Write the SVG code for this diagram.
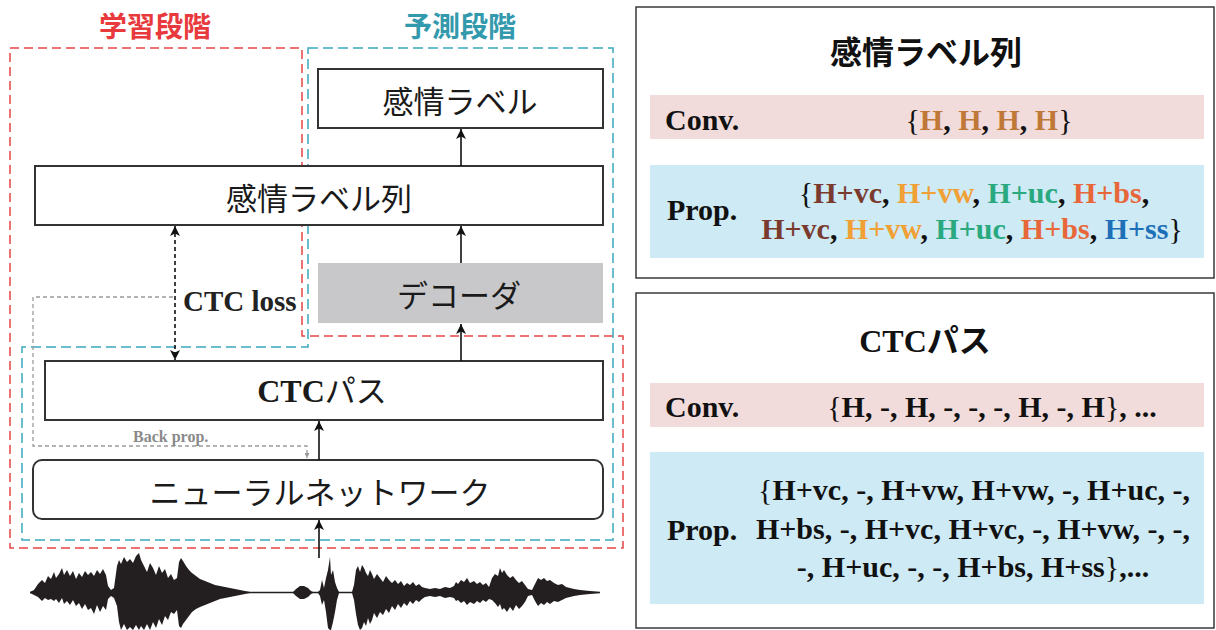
<svg xmlns="http://www.w3.org/2000/svg" width="1216" height="630" viewBox="0 0 1216 630">
  <style>
    .jp { font-family: "Noto Sans CJK JP", "Noto Sans", sans-serif; }
    .serif { font-family: "Liberation Serif", "Times New Roman", serif; font-weight: bold; }
    .box { fill: #ffffff; stroke: #333333; stroke-width: 2; }
    .lbl { font-size: 31px; fill: #1a1a1a; }
    .edge { stroke: #111111; stroke-width: 1.6; fill: none; }
    .band-pink { fill: #f2dcdb; }
    .band-blue { fill: #cdeaf5; }
    .panel { fill: #ffffff; stroke: #3a3a3a; stroke-width: 1.5; }
    .row { font-size: 30px; fill: #111111; }
    .br { font-weight: normal; fill: #111111; }
    .vc { fill: #7a3b2e; }
    .vw { fill: #f0a035; }
    .uc { fill: #2aa97f; }
    .bs { fill: #e8673a; }
    .ss { fill: #1d6fb8; }
    .hc { fill: #c07838; }
  </style>
  <defs>
    <marker id="arr" viewBox="0 0 10 10" refX="10" refY="5" markerWidth="10" markerHeight="10" markerUnits="userSpaceOnUse" orient="auto-start-reverse">
      <path d="M0,0 L10,5 L0,10 L2.5,5 Z" fill="#111111"/>
    </marker>
    <marker id="arrGray" viewBox="0 0 10 10" refX="10" refY="5" markerWidth="5" markerHeight="5" markerUnits="userSpaceOnUse" orient="auto">
      <path d="M0,0 L10,5 L0,10 Z" fill="#999999"/>
    </marker>
  </defs>

  <rect width="1216" height="630" fill="#ffffff"/>

  <!-- stage regions -->
  <g id="stage-train">
    <path d="M10,48 H302 V336 H623 V548 H10 Z" fill="none" stroke="#e84646" stroke-width="1.5" stroke-dasharray="9,5"/>
    <text class="jp" x="155" y="37" font-size="28" font-weight="bold" fill="#e8393c" text-anchor="middle">学習段階</text>
  </g>
  <g id="stage-predict">
    <path d="M308,48 H613 V540 H22 V347 H308 Z" fill="none" stroke="#3aa8bc" stroke-width="1.5" stroke-dasharray="10,5"/>
    <text class="jp" x="460" y="37" font-size="28" font-weight="bold" fill="#3399ad" text-anchor="middle">予測段階</text>
  </g>

  <!-- nodes -->
  <g id="node-emotion-label">
    <rect class="box" x="318" y="69" width="285" height="59"/>
    <text class="jp lbl" x="460" y="99" text-anchor="middle" dominant-baseline="central">感情ラベル</text>
  </g>
  <g id="node-emotion-seq">
    <rect class="box" x="35" y="166" width="568" height="59"/>
    <text class="jp lbl" x="319" y="196" text-anchor="middle" dominant-baseline="central">感情ラベル列</text>
  </g>
  <g id="node-decoder">
    <rect x="318" y="263" width="285" height="60" fill="#c8c8ca"/>
    <text class="jp lbl" x="459" y="293" text-anchor="middle" dominant-baseline="central">デコーダ</text>
  </g>
  <g id="node-ctc-path">
    <rect class="box" x="45" y="361" width="558" height="59"/>
    <text x="322" y="402" text-anchor="middle" font-size="32" fill="#1a1a1a"><tspan class="serif">CTC</tspan><tspan class="jp" font-size="31">パス</tspan></text>
  </g>
  <g id="node-network">
    <rect class="box" x="33" y="460" width="570" height="59" rx="9"/>
    <text class="jp lbl" x="320" y="490" text-anchor="middle" dominant-baseline="central">ニューラルネットワーク</text>
  </g>

  <!-- speech waveform input -->
  <g id="node-waveform">
    <line x1="30" y1="592.5" x2="600" y2="592.5" stroke="#231f20" stroke-width="1.5"/>
    <polygon fill="#231f20" points="30,592 34,590 38,584 42,580 45,583 48,576 51,579 54,572 56,578 59,574 62,568 64,575 67,570 70,576 73,571 76,579 79,573 82,577 85,571 88,575 91,572 94,576 97,570 100,574 103,569 106,575 108,586 111,590 114,588 117,566 119,560 121,564 124,557 127,562 130,559 133,563 136,556 139,553 141,560 144,566 147,572 150,563 153,568 156,575 159,566 162,573 165,569 168,578 171,574 174,580 177,578 179,562 181,558 183,561 186,566 189,570 192,573 196,576 200,579 205,581 210,583 215,585 220,586 225,587 230,588 235,589 240,590 245,591 250,592 293,592 296,589 300,586 304,586 308,588 311,591 313,592 318,592 320,590 322,580 324,588 326,578 328,570 330,557 331,575 333,570 335,582 337,588 339,592 352,592 354,585 356,570 358,566 360,572 362,565 364,568 366,573 368,576 370,570 372,574 374,579 377,574 380,578 383,582 386,576 389,580 392,583 395,580 398,584 401,581 404,586 407,583 410,585 413,582 416,586 419,584 422,587 425,588 430,589 435,588 440,589 445,587 450,588 454,586 456,582 458,584 461,580 464,582 467,578 470,583 474,581 477,584 480,582 483,585 486,583 489,587 492,578 495,574 498,576 500,568 502,573 504,570 507,575 510,578 513,576 516,580 519,583 522,581 525,585 528,589 532,590 535,584 538,578 541,580 544,578 547,581 550,580 554,583 558,585 562,584 566,587 570,588 574,589 580,590 590,591 600,592 600,593 590,594 580,595 574,596 570,597 566,598 562,600 558,602 554,601 550,604 547,602 544,605 541,603 538,606 535,601 532,595 528,596 525,602 522,606 519,609 516,605 513,611 510,607 507,612 504,608 502,610 500,604 498,607 495,603 492,600 489,599 486,602 483,600 480,603 477,601 474,604 470,602 467,605 464,601 461,603 458,600 456,601 454,598 450,597 445,598 440,596 435,597 430,596 425,597 422,599 419,602 416,600 413,604 410,601 407,606 404,603 401,608 398,604 395,610 392,606 389,613 386,609 383,615 380,612 377,618 374,613 372,620 370,624 368,618 366,626 364,622 362,628 360,630 358,625 356,614 354,600 352,593 339,593 337,600 335,612 333,622 331,630 330,630 328,628 326,612 324,600 322,605 320,596 318,593 313,593 311,594 308,597 304,599 300,599 296,596 293,593 250,593 245,594 240,595 235,596 230,597 225,598 220,599 215,601 210,603 205,605 200,607 196,609 192,612 189,616 186,620 183,624 181,628 179,626 177,610 174,614 171,612 168,620 165,616 162,625 159,619 156,628 153,622 150,630 147,624 144,630 141,626 139,630 136,625 133,630 130,627 127,630 124,624 121,630 119,622 117,606 114,598 111,596 108,599 106,610 103,606 100,612 97,605 94,614 91,608 88,610 85,604 82,609 79,603 76,606 73,600 70,605 67,601 64,604 62,598 59,603 56,599 54,601 51,599 48,600 45,598 42,601 38,597 34,595 30,593"/>
  </g>

  <!-- connectors -->
  <g id="connectors">
    <line class="edge" x1="461" y1="166" x2="461" y2="129" marker-end="url(#arr)"/>
    <line class="edge" x1="461" y1="263" x2="461" y2="226" marker-end="url(#arr)"/>
    <line class="edge" x1="461" y1="361" x2="461" y2="324" marker-end="url(#arr)"/>
    <line class="edge" x1="319" y1="460" x2="319" y2="421" marker-end="url(#arr)"/>
    <line class="edge" x1="319" y1="558" x2="319" y2="520" marker-end="url(#arr)"/>
    <!-- CTC loss (both directions) -->
    <line x1="175" y1="226" x2="175" y2="360" stroke="#111111" stroke-width="1.6" stroke-dasharray="4,3" marker-start="url(#arr)" marker-end="url(#arr)"/>
    <text class="serif" x="183" y="311" font-size="29" fill="#222222">CTC loss</text>
    <!-- back propagation -->
    <path d="M173,297 H33 V446 H307 V458" fill="none" stroke="#9a9a9a" stroke-width="1.3" stroke-dasharray="4,3" marker-end="url(#arrGray)"/>
    <text class="serif" x="133" y="442" font-size="16" fill="#8a8a8a">Back prop.</text>
  </g>

  <!-- emotion label sequence panel -->
  <g id="panel-label-seq">
    <rect class="panel" x="636" y="7" width="578" height="271"/>
    <text class="jp" x="926" y="64" font-size="32" font-weight="bold" fill="#111111" text-anchor="middle">感情ラベル列</text>
    <rect class="band-pink" x="650" y="95" width="554" height="44"/>
    <text class="serif row" x="665" y="130">Conv.</text>
    <text class="serif row" x="989" y="130" text-anchor="middle"><tspan class="br">{</tspan><tspan class="hc">H</tspan>, <tspan class="hc">H</tspan>, <tspan class="hc">H</tspan>, <tspan class="hc">H</tspan><tspan class="br">}</tspan></text>
    <rect class="band-blue" x="650" y="165" width="554" height="93"/>
    <text class="serif row" x="667" y="220">Prop.</text>
    <text class="serif row" x="974" y="203" text-anchor="middle"><tspan class="br">{</tspan><tspan class="vc">H+vc</tspan>, <tspan class="vw">H+vw</tspan>, <tspan class="uc">H+uc</tspan>, <tspan class="bs">H+bs</tspan>,</text>
    <text class="serif row" x="972" y="239" text-anchor="middle"><tspan class="vc">H+vc</tspan>, <tspan class="vw">H+vw</tspan>, <tspan class="uc">H+uc</tspan>, <tspan class="bs">H+bs</tspan>, <tspan class="ss">H+ss</tspan><tspan class="br">}</tspan></text>
  </g>

  <!-- CTC path panel -->
  <g id="panel-ctc-path">
    <rect class="panel" x="636" y="293" width="578" height="335"/>
    <text x="925" y="352" font-size="32" fill="#111111" text-anchor="middle"><tspan class="serif">CTC</tspan><tspan class="jp" font-weight="bold">パス</tspan></text>
    <rect class="band-pink" x="650" y="383" width="554" height="44"/>
    <text class="serif row" x="665" y="417">Conv.</text>
    <text class="serif row" x="992" y="417" text-anchor="middle"><tspan class="br">{</tspan>H, -, H, -, -, -, H, -, H<tspan class="br">}</tspan>, ...</text>
    <rect class="band-blue" x="650" y="452" width="554" height="152"/>
    <text class="serif row" x="667" y="540">Prop.</text>
    <text class="serif row" x="974" y="500" text-anchor="middle"><tspan class="br">{</tspan>H+vc, -, H+vw, H+vw, -, H+uc, -,</text>
    <text class="serif row" x="973" y="539" text-anchor="middle">H+bs, -, H+vc, H+vc, -, H+vw, -, -,</text>
    <text class="serif row" x="973" y="577" text-anchor="middle">-, H+uc, -, -, H+bs, H+ss<tspan class="br">}</tspan>,...</text>
  </g>
</svg>
